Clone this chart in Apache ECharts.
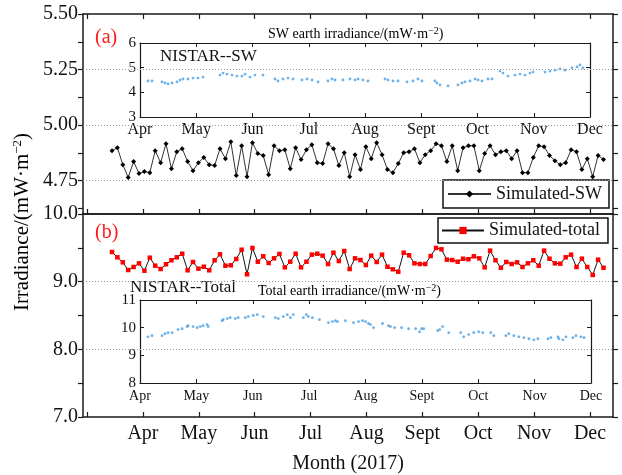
<!DOCTYPE html>
<html><head><meta charset="utf-8">
<script src="https://cdn.jsdelivr.net/npm/echarts@6/dist/echarts.min.js"></script>
<style>html,body{margin:0;padding:0;background:#fff}#c{width:622px;height:475px}</style>
</head><body><div id="c"></div>
<script>
const FONT = 'Liberation Serif';
const monthNames = ['Mar','Apr','May','Jun','Jul','Aug','Sept','Oct','Nov','Dec'];
const monthTicks = [0,1,2,3,4,5,6,7,8,9];
const monthLabels = [1,2,3,4,5,6,7,8,9];

// simulated series: sampled on a regular grid (month units, Mar = 0)
const simStart = 0.446, simStep = 0.09666;
const simSW = [4.885,4.898,4.822,4.764,4.836,4.782,4.791,4.786,4.885,4.831,
 4.916,4.804,4.880,4.894,4.836,4.795,4.831,4.854,4.822,4.818,
 4.894,4.849,4.925,4.773,4.907,4.768,4.921,4.872,4.863,4.777,
 4.907,4.885,4.889,4.804,4.898,4.845,4.889,4.912,4.831,4.827,
 4.916,4.894,4.818,4.876,4.768,4.867,4.800,4.903,4.849,4.921,
 4.867,4.800,4.786,4.827,4.876,4.880,4.894,4.831,4.867,4.885,
 4.916,4.907,4.836,4.907,4.795,4.898,4.907,4.907,4.795,4.872,
 4.907,4.867,4.880,4.885,4.849,4.885,4.786,4.786,4.854,4.907,
 4.903,4.863,4.840,4.822,4.831,4.889,4.880,4.800,4.849,4.768,
 4.863,4.845];
const simTotal = [9.438,9.360,9.286,9.172,9.217,9.271,9.162,9.354,9.236,9.187,
 9.257,9.316,9.360,9.413,9.168,9.291,9.192,9.221,9.168,9.316,
 9.404,9.236,9.242,9.335,9.472,9.109,9.498,9.295,9.375,9.276,
 9.345,9.409,9.212,9.295,9.413,9.212,9.295,9.399,9.413,9.384,
 9.261,9.428,9.305,9.453,9.187,9.345,9.320,9.246,9.384,9.291,
 9.399,9.221,9.183,9.147,9.428,9.390,9.271,9.261,9.261,9.379,
 9.498,9.478,9.325,9.320,9.295,9.339,9.331,9.375,9.345,9.212,
 9.458,9.316,9.206,9.291,9.261,9.286,9.217,9.271,9.316,9.236,
 9.458,9.339,9.271,9.266,9.360,9.399,9.217,9.339,9.217,9.099,
 9.325,9.206];

// NISTAR insets (month units, Apr = 1)
const swInsetX = [1.142,1.213,1.391,1.444,1.498,1.569,1.658,1.711,1.764,1.853,1.942,2.031,2.12,
 2.422,2.476,2.547,2.636,2.724,2.813,2.867,2.956,3.044,3.187,3.4,3.453,3.542,3.631,3.72,
 3.88,3.969,4.058,4.164,4.342,4.413,4.467,4.609,4.733,4.822,4.876,4.964,5.053,
 5.356,5.409,5.498,5.587,5.747,5.853,5.942,6.013,6.244,6.28,6.333,6.476,6.653,6.724,6.778,
 6.867,6.956,7.009,7.08,7.187,7.258,7.4,7.453,7.542,7.667,7.756,7.844,7.933,7.987,
 8.2,8.289,8.378,8.467,8.556,8.68,8.769,8.822,8.876];
const swInsetY = [4.46,4.46,4.42,4.38,4.34,4.38,4.42,4.50,4.54,4.54,4.58,4.58,4.62,
 4.70,4.78,4.74,4.70,4.66,4.66,4.74,4.62,4.70,4.70,4.54,4.46,4.54,4.58,4.54,
 4.50,4.54,4.50,4.42,4.46,4.54,4.50,4.50,4.54,4.50,4.54,4.50,4.46,
 4.54,4.50,4.46,4.46,4.42,4.46,4.54,4.46,4.46,4.38,4.30,4.26,4.30,4.38,4.42,
 4.46,4.54,4.50,4.46,4.54,4.54,4.86,4.78,4.66,4.70,4.74,4.70,4.78,4.82,
 4.82,4.86,4.90,4.95,4.90,4.99,5.03,5.11,4.99];
const totInsetX = [1.142,1.213,1.391,1.444,1.498,1.569,1.676,1.747,1.836,1.853,1.942,2.013,2.067,2.12,2.191,2.209,
 2.458,2.476,2.547,2.6,2.689,2.742,2.867,2.92,3.009,3.08,3.187,3.4,3.453,3.542,3.613,3.667,3.72,
 3.898,3.951,3.987,4.058,4.182,4.342,4.413,4.467,4.502,4.644,4.787,4.876,4.947,5.0,5.053,5.089,5.142,
 5.302,5.409,5.444,5.516,5.64,5.764,5.889,5.96,5.996,6.031,6.28,6.316,6.369,6.476,6.689,6.742,6.831,
 6.92,7.009,7.08,7.222,7.276,7.489,7.542,7.631,7.72,7.809,7.898,7.987,8.058,8.236,8.289,8.413,8.431,
 8.502,8.556,8.68,8.733,8.822,8.876];
const totInsetY = [9.67,9.71,9.71,9.78,9.82,9.82,9.93,9.96,10.04,10.07,10.04,10.00,10.04,10.07,10.11,10.04,
 10.25,10.29,10.33,10.36,10.33,10.36,10.36,10.40,10.44,10.47,10.40,10.36,10.33,10.40,10.47,10.36,10.47,
 10.36,10.47,10.40,10.36,10.29,10.18,10.22,10.25,10.22,10.25,10.18,10.22,10.25,10.22,10.15,10.11,10.00,
 10.15,10.07,10.04,10.00,10.00,9.96,9.96,9.85,9.96,9.96,9.89,9.93,10.04,9.82,9.82,9.67,9.75,
 9.82,9.85,9.82,9.82,9.71,9.71,9.78,9.71,9.67,9.64,9.60,9.56,9.60,9.60,9.64,9.67,9.60,
 9.56,9.67,9.64,9.71,9.67,9.64];

const topTicks = [4.625,4.75,4.875,5,5.125,5.25,5.375,5.5];
const topLabels = [4.75,5,5.25,5.5];
const topGrid = [4.75,5,5.25];
const botTicks = [7,7.5,8,8.5,9,9.5,10];
const botLabels = [7,8,9,10];
const botGrid = [8,9];

const pairs = (xs, ys) => ys.map((v,i)=>[xs[i], v]);
const simPairs = ys => ys.map((v,i)=>[simStart + i*simStep, v]);

const AX = {lineStyle:{color:'#1a1a1a', width:1.5}};
const AXI = {lineStyle:{color:'#1a1a1a', width:1.2}};
const XMIN = -0.073, XMAX = 9.412;

function mainX(grid, pos, opts){
  return Object.assign({type:'value', gridIndex:grid, position:pos, min:XMIN, max:XMAX,
    axisLine:Object.assign({show:true,onZero:false},AX), splitLine:{show:false},
    axisTick:{show:true, inside:true, length:5, customValues:monthTicks, lineStyle:{color:'#1a1a1a',width:1.2}},
    axisLabel:{show:false}}, opts||{});
}
function mainY(grid, pos, min, max, ticks, labels, fmt, show){
  return {type:'value', gridIndex:grid, position:pos, min:min, max:max,
    axisLine:Object.assign({show:true,onZero:false},AX), splitLine:{show:false},
    axisTick:{show:true, inside:false, length:5, customValues:ticks, lineStyle:{color:'#1a1a1a',width:1.2}},
    axisLabel:{show:show, customValues:labels, formatter:fmt, margin:5, fontFamily:FONT, fontSize:20, color:'#111'}};
}
function insetX(grid, pos, showLabel, fs, margin){
  return {type:'value', gridIndex:grid, position:pos, min:1, max:9, interval:1,
    axisLine:Object.assign({show:true,onZero:false},AXI), splitLine:{show:false},
    axisTick:{show:true, inside:true, length:4, lineStyle:{color:'#1a1a1a'}},
    axisLabel:{show:showLabel, formatter:v=>monthNames[v], fontFamily:FONT, fontSize:fs, color:'#111', margin:margin}};
}
function insetY(grid, pos, min, max, showLabel){
  return {type:'value', gridIndex:grid, position:pos, min:min, max:max, interval:1,
    axisLine:Object.assign({show:true,onZero:false},AXI), splitLine:{show:false},
    axisTick:{show:true, inside:true, length:4, lineStyle:{color:'#1a1a1a'}},
    axisLabel:{show:showLabel, fontFamily:FONT, fontSize:15, color:'#111', margin:4}};
}
const gridLine = vals => ({silent:true, symbol:'none', label:{show:false},
  lineStyle:{type:[1,2], color:'#999', width:1}, data:vals.map(v=>({yAxis:v}))});

const option = {
  animation:false,
  backgroundColor:'#fff',
  grid:[
    {left:83, top:14, width:530, height:200},
    {left:83, top:214, width:530, height:203},
    {left:140, top:43, width:450, height:74},
    {left:140, top:300, width:451, height:83}
  ],
  xAxis:[
    mainX(0,'bottom'),
    mainX(0,'top'),
    mainX(1,'bottom',{
      axisLabel:{show:true, customValues:monthLabels, formatter:v=>monthNames[Math.round(v)], fontFamily:FONT, fontSize:20, color:'#111', margin:7},
      name:'Month (2017)', nameLocation:'middle', nameGap:37, nameTextStyle:{fontFamily:FONT, fontSize:20, color:'#111'}}),
    mainX(1,'top',{axisTick:{show:false}}),
    insetX(2,'bottom',true,16,5),
    insetX(2,'top',false,16,5),
    insetX(3,'bottom',true,14,6),
    insetX(3,'top',false,14,6)
  ],
  yAxis:[
    mainY(0,'left',4.6,5.5,topTicks,topLabels,v=>v.toFixed(2),true),
    mainY(0,'right',4.6,5.5,topTicks,topLabels,v=>v.toFixed(2),false),
    mainY(1,'left',7,10,botTicks,botLabels,v=>v.toFixed(1),true),
    mainY(1,'right',7,10,botTicks,botLabels,v=>v.toFixed(1),false),
    insetY(2,'left',3,6,true),
    insetY(2,'right',3,6,false),
    insetY(3,'left',8,11,true),
    insetY(3,'right',8,11,false)
  ],
  legend:[
    {data:['Simulated-SW'], left:443, top:180, orient:'horizontal', padding:[3,7,3,4],
     itemWidth:43, itemHeight:9, itemGap:4, borderColor:'#111', borderWidth:1.5, borderRadius:0, backgroundColor:'#fff',
     textStyle:{fontFamily:FONT, fontSize:18, color:'#111', lineHeight:22}},
    {data:['Simulated-total'], left:438, top:218, orient:'horizontal', padding:[2,8,2,3],
     itemWidth:42, itemHeight:9, itemGap:4, borderColor:'#111', borderWidth:1.5, borderRadius:0, backgroundColor:'#fff',
     textStyle:{fontFamily:FONT, fontSize:18, color:'#111', lineHeight:21}}
  ],
  series:[
    {name:'Simulated-SW', type:'line', xAxisIndex:0, yAxisIndex:0, data:simPairs(simSW),
     symbol:'diamond', symbolSize:5, showSymbol:true, lineStyle:{color:'#333', width:1}, itemStyle:{color:'#000'},
     markLine:gridLine(topGrid), z:3},
    {name:'Simulated-total', type:'line', xAxisIndex:2, yAxisIndex:2, data:simPairs(simTotal),
     symbol:'rect', symbolSize:4.5, showSymbol:true, lineStyle:{color:'#111', width:1}, itemStyle:{color:'#ff0000'},
     markLine:gridLine(botGrid), z:3},
    {name:'NISTAR-SW', type:'scatter', xAxisIndex:4, yAxisIndex:4, data:pairs(swInsetX, swInsetY),
     symbol:'circle', symbolSize:2.8, itemStyle:{color:'#4a9ee0'}},
    {name:'NISTAR-Total', type:'scatter', xAxisIndex:6, yAxisIndex:6, data:pairs(totInsetX, totInsetY),
     symbol:'circle', symbolSize:2.8, itemStyle:{color:'#4a9ee0'}}
  ],
  graphic:[
    {type:'text', x:95, y:38, style:{text:'(a)', font:'20px "Liberation Serif"', fill:'#ff1a1a', verticalAlign:'middle'}},
    {type:'text', x:95, y:233, style:{text:'(b)', font:'20px "Liberation Serif"', fill:'#ff1a1a', verticalAlign:'middle'}},
    {type:'text', x:160, y:57, style:{text:'NISTAR--SW', font:'17px "Liberation Serif"', fill:'#111', verticalAlign:'middle'}},
    {type:'text', x:130, y:288, style:{text:'NISTAR--Total', font:'17px "Liberation Serif"', fill:'#111', verticalAlign:'middle'}},
    {type:'text', x:268, y:34, style:{text:'{n|SW earth irradiance/(mW·m}{s|−2}{n|)}', verticalAlign:'middle',
      rich:{n:{fontFamily:FONT, fontSize:14, color:'#111'}, s:{fontFamily:FONT, fontSize:10, color:'#111', verticalAlign:'top', padding:[0,0,6,0]}}}},
    {type:'text', x:258, y:291, style:{text:'{n|Total earth irradiance/(mW·m}{s|−2}{n|)}', verticalAlign:'middle',
      rich:{n:{fontFamily:FONT, fontSize:14, color:'#111'}, s:{fontFamily:FONT, fontSize:10, color:'#111', verticalAlign:'top', padding:[0,0,6,0]}}}},
    {type:'text', x:22, y:222, rotation:Math.PI/2, style:{text:'{n|Irradiance/(mW·m}{s|−2}{n|)}', align:'center', verticalAlign:'middle',
      rich:{n:{fontFamily:FONT, fontSize:21, color:'#111'}, s:{fontFamily:FONT, fontSize:13, color:'#111', verticalAlign:'top', padding:[0,0,8,0]}}}}
  ]
};
echarts.init(document.getElementById('c')).setOption(option);
</script></body></html>
